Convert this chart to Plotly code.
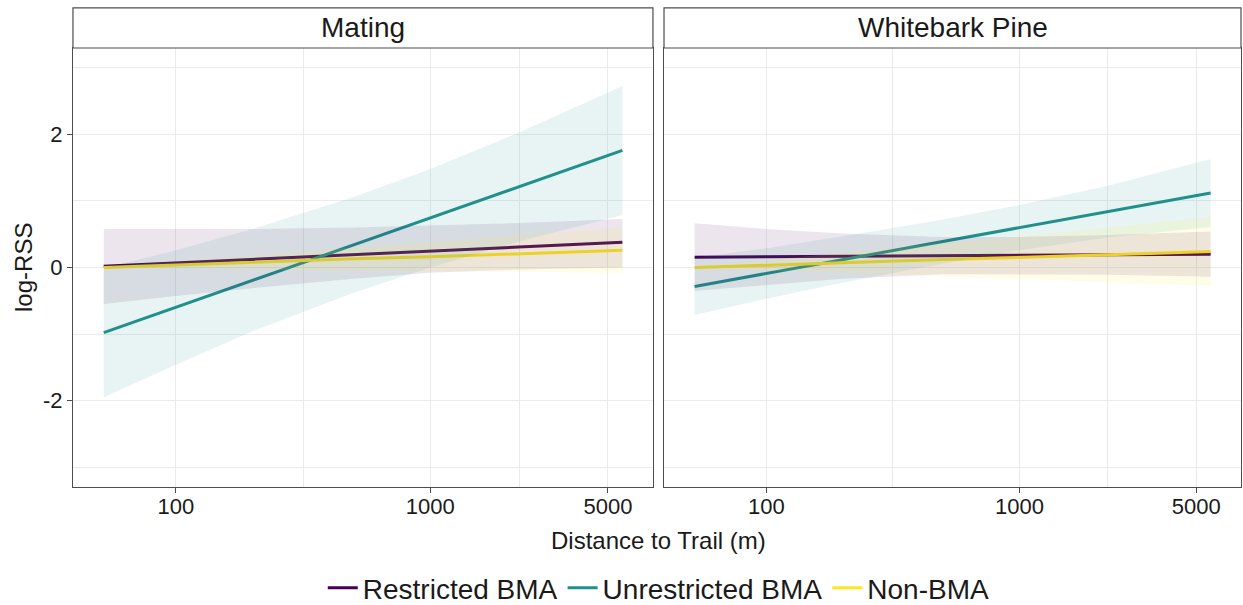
import plotly.graph_objects as go

# ---------------- data ----------------
dist = [52, 100, 200, 500, 1000, 2236, 5700]          # Distance to Trail (m)
facets = ["Mating", "Whitebark Pine"]
groups = ["Restricted BMA", "Unrestricted BMA", "Non-BMA"]

# Mating
mat_restricted = [0.02, 0.07, 0.12, 0.19, 0.25, 0.31, 0.38]
mat_restricted_lo = [-0.55, -0.43, -0.31, -0.17, -0.08, -0.03, 0.00]
mat_restricted_hi = [0.58, 0.58, 0.58, 0.60, 0.63, 0.67, 0.73]

mat_unrestricted = [-0.98, -0.60, -0.19, 0.34, 0.74, 1.21, 1.76]
mat_unrestricted_lo = [-1.95, -1.46, -0.96, -0.38, 0.00, 0.39, 0.79]
mat_unrestricted_hi = [-0.01, 0.26, 0.58, 1.06, 1.48, 2.03, 2.73]

mat_nonbma = [0.00, 0.04, 0.08, 0.13, 0.16, 0.21, 0.26]
mat_nonbma_lo = [-0.01, -0.01, -0.03, -0.05, -0.06, -0.07, -0.08]
mat_nonbma_hi = [0.01, 0.09, 0.18, 0.30, 0.38, 0.49, 0.60]

# Whitebark Pine
wbp_restricted = [0.155, 0.16, 0.17, 0.18, 0.18, 0.19, 0.20]
wbp_restricted_lo = [-0.355, -0.26, -0.17, -0.10, -0.10, -0.11, -0.14]
wbp_restricted_hi = [0.665, 0.58, 0.51, 0.46, 0.46, 0.49, 0.54]

wbp_unrestricted = [-0.285, -0.09, 0.12, 0.39, 0.60, 0.84, 1.12]
wbp_unrestricted_lo = [-0.715, -0.47, -0.23, 0.06, 0.26, 0.45, 0.61]
wbp_unrestricted_hi = [0.145, 0.29, 0.47, 0.72, 0.94, 1.23, 1.63]

wbp_nonbma = [0.00, 0.03, 0.07, 0.12, 0.15, 0.19, 0.24]
wbp_nonbma_lo = [-0.01, -0.05, -0.08, -0.13, -0.17, -0.22, -0.28]
wbp_nonbma_hi = [0.01, 0.11, 0.22, 0.37, 0.47, 0.60, 0.76]

x_ticks = [100, 1000, 5000]
x_minor = [316.2, 2236]
y_ticks = [-2, 0, 2]
y_ticktext = ["-2", "0", "2"]
y_minor = [-3, -1, 1, 3]

# ---------------- styling ----------------
line_colors = {"Restricted BMA": "#440154", "Unrestricted BMA": "#21908C", "Non-BMA": "#FDE725"}
band_colors = {"Restricted BMA": "rgba(68,1,84,0.10)",
               "Unrestricted BMA": "rgba(33,144,140,0.10)",
               "Non-BMA": "rgba(253,231,37,0.10)"}
FONT = "Arial, Liberation Sans, sans-serif"
GRID = "#EBEBEB"
BORDER = "#4D4D4D"

panels = {
    "Mating": {
        "Restricted BMA": (mat_restricted, mat_restricted_lo, mat_restricted_hi),
        "Unrestricted BMA": (mat_unrestricted, mat_unrestricted_lo, mat_unrestricted_hi),
        "Non-BMA": (mat_nonbma, mat_nonbma_lo, mat_nonbma_hi),
    },
    "Whitebark Pine": {
        "Restricted BMA": (wbp_restricted, wbp_restricted_lo, wbp_restricted_hi),
        "Unrestricted BMA": (wbp_unrestricted, wbp_unrestricted_lo, wbp_unrestricted_hi),
        "Non-BMA": (wbp_nonbma, wbp_nonbma_lo, wbp_nonbma_hi),
    },
}

fig = go.Figure()
axis_ids = {"Mating": ("x", "y"), "Whitebark Pine": ("x2", "y2")}

for fi, facet in enumerate(facets):
    xa, ya = axis_ids[facet]
    for g in groups:
        mid, lo, hi = panels[facet][g]
        fig.add_trace(go.Scatter(
            x=dist, y=mid, mode="lines", name=g,
            line=dict(color=line_colors[g], width=3),
            xaxis=xa, yaxis=ya, legendgroup=g, showlegend=(fi == 0),
            hoverinfo="skip"))
    for g in groups:
        mid, lo, hi = panels[facet][g]
        fig.add_trace(go.Scatter(
            x=dist + dist[::-1], y=hi + lo[::-1], mode="lines",
            fill="toself", fillcolor=band_colors[g], line=dict(width=0),
            xaxis=xa, yaxis=ya, legendgroup=g, showlegend=False,
            hoverinfo="skip"))

x_common = dict(
    type="log", range=[1.595, 3.876],
    tickmode="array", tickvals=x_ticks, ticktext=[str(v) for v in x_ticks],
    showgrid=True, gridcolor=GRID, gridwidth=1.1,
    minor=dict(tickmode="array", tickvals=x_minor, showgrid=True,
               gridcolor=GRID, gridwidth=0.6, ticks=""),
    showline=True, mirror=True, linecolor=BORDER, linewidth=1.2,
    ticks="outside", ticklen=5, tickcolor=BORDER, tickwidth=1.2,
    ticklabelstandoff=-6,
    tickfont=dict(family=FONT, size=22, color="#1A1A1A"),
    zeroline=False,
)
y_common = dict(
    range=[-3.3, 3.3],
    tickmode="array", tickvals=y_ticks, ticktext=y_ticktext,
    showgrid=True, gridcolor=GRID, gridwidth=1.1,
    minor=dict(tickmode="array", tickvals=y_minor, showgrid=True,
               gridcolor=GRID, gridwidth=0.6, ticks=""),
    showline=True, mirror=True, linecolor=BORDER, linewidth=1.2,
    tickcolor=BORDER, tickwidth=1.2,
    tickfont=dict(family=FONT, size=22, color="#1A1A1A"),
    zeroline=False, domain=[0.195, 0.9207],
)

fig.update_layout(
    width=1243, height=605,
    margin=dict(l=0, r=0, t=0, b=0, autoexpand=False),
    paper_bgcolor="white", plot_bgcolor="white",
    font=dict(family=FONT, color="#1A1A1A"),
    xaxis=dict(**x_common, domain=[0.0587, 0.5253], anchor="y"),
    xaxis2=dict(**x_common, domain=[0.5342, 0.9984], anchor="y2"),
    yaxis=dict(**y_common, anchor="x", ticks="outside", ticklen=5, showticklabels=True),
    yaxis2=dict(**y_common, anchor="x2", ticks="", showticklabels=False),
    legend=dict(orientation="h", x=0.53, xanchor="center", y=0.028, yanchor="middle",
                font=dict(family=FONT, size=28, color="#1A1A1A"),
                bgcolor="rgba(0,0,0,0)", itemwidth=30, tracegroupgap=0),
    showlegend=True,
)

# facet strips
strip_h = 40 / 439
for facet in facets:
    xa, ya = axis_ids[facet]
    fig.add_shape(type="rect", xref=f"{xa} domain", yref=f"{ya} domain",
                  x0=0, x1=1, y0=1, y1=1 + strip_h,
                  fillcolor="white", line=dict(color=BORDER, width=1.2), layer="above")
    fig.add_annotation(text=facet, xref=f"{xa} domain", yref=f"{ya} domain",
                       x=0.5, y=1 + strip_h / 2, showarrow=False,
                       xanchor="center", yanchor="middle",
                       font=dict(family=FONT, size=28, color="#1A1A1A"))

# axis titles
fig.add_annotation(text="Distance to Trail (m)", xref="paper", yref="paper",
                   x=0.5294, y=0.1074, showarrow=False, xanchor="center", yanchor="middle",
                   font=dict(family=FONT, size=24, color="#1A1A1A"))
fig.add_annotation(text="log-RSS", xref="paper", yref="paper",
                   x=0.0193, y=0.5587, showarrow=False, textangle=-90,
                   xanchor="center", yanchor="middle",
                   font=dict(family=FONT, size=24, color="#1A1A1A"))

fig.write_html("out.html", config={"displayModeBar": False},
               post_script="document.body.style.margin='0';")
